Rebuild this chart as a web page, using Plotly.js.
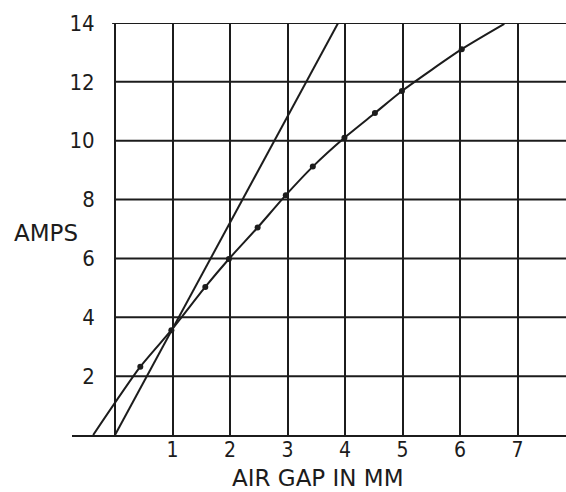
<!DOCTYPE html>
<html>
<head>
<meta charset="utf-8">
<script src="https://cdn.plot.ly/plotly-3.0.1.min.js"></script>
<style>
html,body{margin:0;padding:0;background:#fff;}
#chart{width:566px;height:492px;}
</style>
</head>
<body>
<div id="chart"></div>
<script>
// Measured curve (air gap in mm vs amps)
var curveX = [-0.38, 0.44, 0.98, 1.57, 1.98, 2.48, 2.97, 3.44, 3.99, 4.52, 4.99, 6.03, 6.77];
var curveY = [0, 2.32, 3.56, 5.03, 5.98, 7.05, 8.15, 9.12, 10.1, 10.94, 11.69, 13.11, 13.97];
// Plotted points on the curve
var pointX = [0.44, 0.98, 1.57, 1.98, 2.48, 2.97, 3.44, 3.99, 4.52, 4.99, 6.03];
var pointY = [2.32, 3.56, 5.03, 5.98, 7.05, 8.15, 9.12, 10.1, 10.94, 11.69, 13.11];
// Straight reference line
var lineX = [0, 3.88];
var lineY = [0, 14];
// Axis ticks
var xTicks = [1, 2, 3, 4, 5, 6, 7];
var yTicks = [2, 4, 6, 8, 10, 12, 14];

var ink = '#1c1c1c';
var tickFont = {family: '"Liberation Sans Narrow", "DejaVu Sans Condensed", "DejaVu Sans", sans-serif', size: 22, color: ink};
var xTickFont = {family: '"Liberation Sans Narrow", "DejaVu Sans Condensed", "DejaVu Sans", sans-serif', size: 21, color: ink};
var labelFont = {family: '"DejaVu Sans", sans-serif', size: 23, color: ink};
var xTitleFont = {family: '"DejaVu Sans", sans-serif', size: 23, color: ink};

var shapes = yTicks.map(function (v) {
  return {type: 'line', layer: 'below', xref: 'x', yref: 'y',
          x0: v === 14 ? -0.05 : 0, x1: 7.843, y0: v, y1: v,
          line: {color: ink, width: 2}};
});

var traces = [
  {x: lineX, y: lineY, mode: 'lines', type: 'scatter',
   line: {color: ink, width: 2}, hoverinfo: 'skip', showlegend: false},
  {x: curveX, y: curveY, mode: 'lines', type: 'scatter',
   line: {color: ink, width: 2, shape: 'spline', smoothing: 0.6}, showlegend: false},
  {x: pointX, y: pointY, mode: 'markers', type: 'scatter',
   marker: {color: ink, size: 6}, showlegend: false}
];

var layout = {
  width: 566, height: 492,
  margin: {l: 72, r: 0, t: 23, b: 57, pad: 0},
  paper_bgcolor: '#fff', plot_bgcolor: '#fff',
  showlegend: false,
  xaxis: {
    range: [-0.748, 7.843], tickvals: xTicks, ticktext: xTicks.map(String),
    showgrid: true, gridcolor: ink, gridwidth: 2,
    zeroline: true, zerolinecolor: ink, zerolinewidth: 2,
    showline: true, linecolor: ink, linewidth: 2,
    ticks: '', ticklabelstandoff: -5, tickfont: xTickFont, fixedrange: true
  },
  yaxis: {
    range: [0, 14], tickvals: yTicks, ticktext: yTicks.map(String),
    showgrid: false, zeroline: false, showline: false,
    anchor: 'free', position: 0.046,
    ticks: '', tickfont: tickFont, fixedrange: true
  },
  shapes: shapes,
  annotations: [
    {text: 'AMPS', xref: 'paper', yref: 'y', x: -0.1215, y: 6.85,
     xanchor: 'left', yanchor: 'middle', showarrow: false, font: labelFont},
    {text: 'AIR GAP IN MM', xref: 'paper', yref: 'paper', x: 0.497, y: -0.1375,
     xanchor: 'center', yanchor: 'bottom', borderpad: 0, showarrow: false, font: xTitleFont}
  ]
};

Plotly.newPlot('chart', traces, layout, {displayModeBar: false, staticPlot: true});
</script>
</body>
</html>
